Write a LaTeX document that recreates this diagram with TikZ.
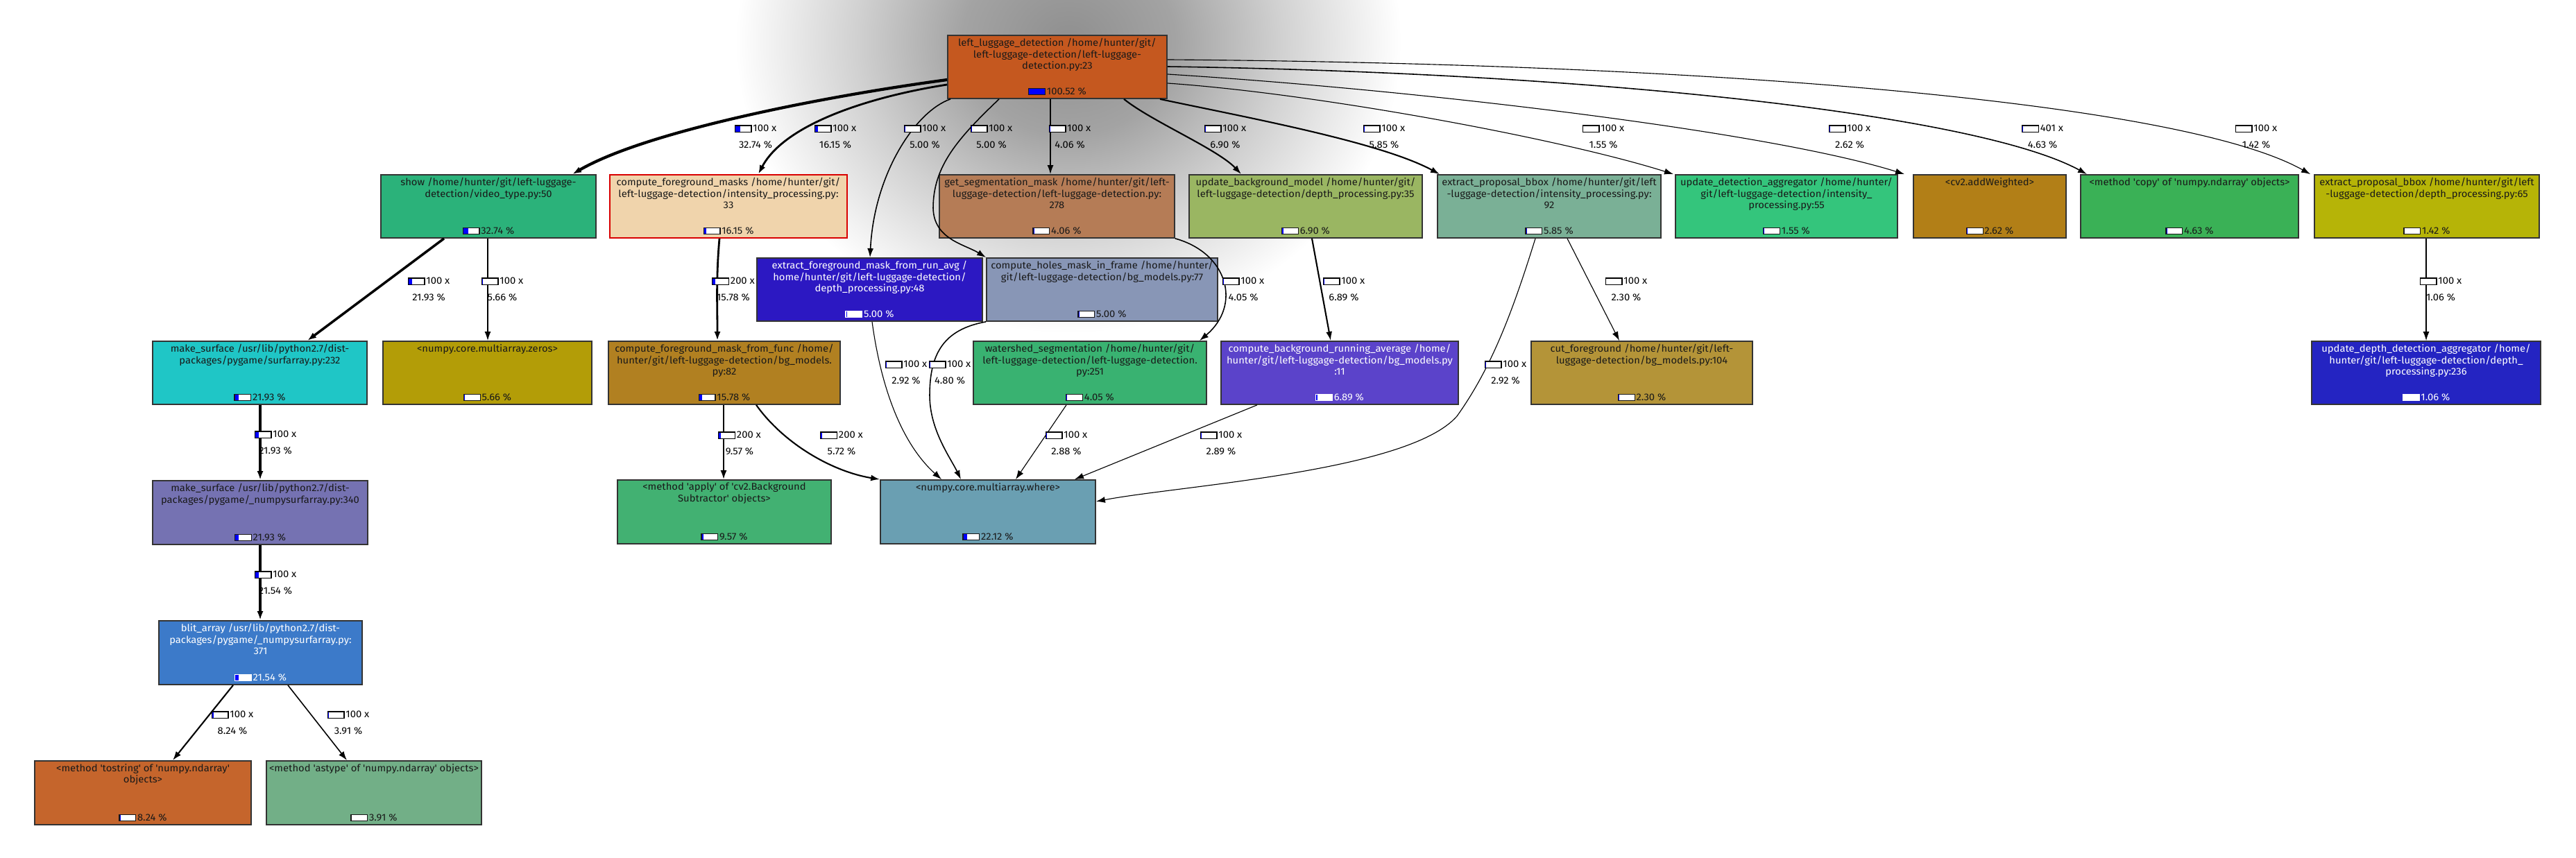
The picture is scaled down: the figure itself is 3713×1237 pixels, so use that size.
\documentclass[tikz,border=0pt]{standalone}
\usepackage{fontspec}
\usetikzlibrary{arrows.meta,fit}
\newfontfamily\callfont[FakeStretch=1.05]{Fira Sans}
\definecolor{RootOr}{HTML}{C5581F}
\definecolor{ShowGr}{HTML}{2BB27A}
\definecolor{MaskTan}{HTML}{F0D4AC}
\definecolor{SegBr}{HTML}{B57C56}
\definecolor{BgOlive}{HTML}{9AB662}
\definecolor{SageGr}{HTML}{7AB096}
\definecolor{AggGr}{HTML}{34C57C}
\definecolor{AmberBr}{HTML}{B27F17}
\definecolor{CopyGr}{HTML}{3AB156}
\definecolor{OliveYe}{HTML}{B6B407}
\definecolor{RunBlue}{HTML}{2C18C2}
\definecolor{HoleGrey}{HTML}{8896B6}
\definecolor{SurfCyan}{HTML}{1FC6C6}
\definecolor{ZeroGold}{HTML}{B39D07}
\definecolor{FuncBr}{HTML}{B18021}
\definecolor{WaterGr}{HTML}{39B271}
\definecolor{AvgPurple}{HTML}{5B43CA}
\definecolor{CutGold}{HTML}{B49438}
\definecolor{DepthBlue}{HTML}{2424C2}
\definecolor{ApplyGr}{HTML}{42B172}
\definecolor{WhereBl}{HTML}{6A9FB2}
\definecolor{NumpyLav}{HTML}{7572B2}
\definecolor{BlitBlue}{HTML}{3C7AC9}
\definecolor{StrOr}{HTML}{C5652C}
\definecolor{AstypeGr}{HTML}{72AF87}
\newlength\blen \newlength\wlen
\newcommand\nodefont{\callfont\fontsize{4.0}{4.75}\selectfont}
\newcommand\sq{\textquotesingle}
\newcommand\pbar[1]{\pgfmathsetlength\blen{6.4pt*min(#1,100)/100}%
  \pgfmathsetlength\wlen{6.4pt-\blen}%
  {\setlength\fboxsep{0pt}\setlength\fboxrule{0.35pt}%
  \fbox{\textcolor{blue}{\rule{\blen}{2.3pt}}\textcolor{white}{\rule{\wlen}{2.3pt}}}}\hspace{0.5pt}}
\pgfdeclareradialshading{glow}{\pgfpoint{0bp}{0bp}}{color(0bp)=(black!44);
  color(8bp)=(black!36); color(16bp)=(black!18); color(25bp)=(white); color(50bp)=(white)}
\tikzset{fbox/.style={line width=0.5pt,inner sep=0pt},
  ftext/.style={align=center,inner sep=1.2pt,font=\nodefont},
  fpct/.style={inner sep=1.4pt,font=\nodefont},
  elab/.style={align=center,inner sep=0pt,font=\callfont\fontsize{4.0}{6.8}\selectfont},
  call/.style={-{Latex[length=1.3mm,width=0.9mm]},draw=black},
  c1/.style={call,line width=1.2pt},c2/.style={call,line width=1pt},
  c3/.style={call,line width=0.8pt},c4/.style={call,line width=0.6pt},
  c5/.style={call,line width=0.45pt},c6/.style={call,line width=0.32pt}}
% name, corner, corner, fill, border, text colour, text, percent
\newcommand\callbox[8]{%
  \node[fbox,fill=#4,draw=#5,fit={#2 #3}] (#1) {};
  \node[ftext,text=#6,anchor=north] (#1-t) at (#1.north) {#7};
  \node[fpct,text=#6,anchor=south] (#1-p) at (#1.south) {\pbar{#8}#8 \%};}

\begin{document}
\begin{tikzpicture}[x=0.01cm,y=-0.01cm]
\useasboundingbox (0,0) rectangle (3713,1237);
\fill[white] (0,0) rectangle (3713,1237);
\begin{scope}
\clip (0,0) rectangle (3713,1237);
\shade[shading=glow] (1540,60) ellipse [x radius=480,y radius=420];
\end{scope}

% boxes
\callbox{root}{(1366,51)}{(1682,142)}{RootOr}{black!80}{black!90}{left\_luggage\_detection /home/hunter/git/\\left-luggage-detection/left-luggage-\\detection.py:23}{100.52}
\callbox{show}{(549,252)}{(859,343)}{ShowGr}{black!80}{black!90}{show /home/hunter/git/left-luggage-\\detection/video\_type.py:50}{32.74}
\callbox{masks}{(879,252)}{(1221,343)}{MaskTan}{red!85!black}{black!90}{compute\_foreground\_masks /home/hunter/git/\\left-luggage-detection/intensity\_processing.py:\\33}{16.15}
\callbox{segm}{(1354,252)}{(1693,343)}{SegBr}{black!80}{black!90}{get\_segmentation\_mask /home/hunter/git/left-\\luggage-detection/left-luggage-detection.py:\\278}{4.06}
\callbox{bgmod}{(1714,252)}{(2050,343)}{BgOlive}{black!80}{black!90}{update\_background\_model /home/hunter/git/\\left-luggage-detection/depth\_processing.py:35}{6.90}
\callbox{bboxi}{(2072,252)}{(2394,343)}{SageGr}{black!80}{black!90}{extract\_proposal\_bbox /home/hunter/git/left\\-luggage-detection/intensity\_processing.py:\\92}{5.85}
\callbox{aggr}{(2415,252)}{(2735,343)}{AggGr}{black!80}{black!90}{update\_detection\_aggregator /home/hunter/\\git/left-luggage-detection/intensity\_\\processing.py:55}{1.55}
\callbox{addw}{(2758,252)}{(2978,343)}{AmberBr}{black!80}{black!90}{<cv2.addWeighted>}{2.62}
\callbox{copy}{(2999,252)}{(3313,343)}{CopyGr}{black!80}{black!90}{<method \sq copy\sq{} of \sq numpy.ndarray\sq{} objects>}{4.63}
\callbox{bboxd}{(3336,252)}{(3660,343)}{OliveYe}{black!80}{black!90}{extract\_proposal\_bbox /home/hunter/git/left\\-luggage-detection/depth\_processing.py:65}{1.42}
\callbox{runavg}{(1091,372)}{(1416,463)}{RunBlue}{black!80}{white}{extract\_foreground\_mask\_from\_run\_avg /\\home/hunter/git/left-luggage-detection/\\depth\_processing.py:48}{5.00}
\callbox{holes}{(1422,372)}{(1755,463)}{HoleGrey}{black!80}{black!90}{compute\_holes\_mask\_in\_frame /home/hunter/\\git/left-luggage-detection/bg\_models.py:77}{5.00}
\callbox{surf}{(220,492)}{(529,583)}{SurfCyan}{black!80}{black!90}{make\_surface /usr/lib/python2.7/dist-\\packages/pygame/surfarray.py:232}{21.93}
\callbox{zeros}{(552,492)}{(853,583)}{ZeroGold}{black!80}{black!90}{<numpy.core.multiarray.zeros>}{5.66}
\callbox{func}{(877,492)}{(1211,583)}{FuncBr}{black!80}{black!90}{compute\_foreground\_mask\_from\_func /home/\\hunter/git/left-luggage-detection/bg\_models.\\py:82}{15.78}
\callbox{water}{(1403,492)}{(1739,583)}{WaterGr}{black!80}{black!90}{watershed\_segmentation /home/hunter/git/\\left-luggage-detection/left-luggage-detection.\\py:251}{4.05}
\callbox{avg}{(1760,492)}{(2102,583)}{AvgPurple}{black!80}{white}{compute\_background\_running\_average /home/\\hunter/git/left-luggage-detection/bg\_models.py\\:11}{6.89}
\callbox{cut}{(2207,492)}{(2526,583)}{CutGold}{black!80}{black!90}{cut\_foreground /home/hunter/git/left-\\luggage-detection/bg\_models.py:104}{2.30}
\callbox{daggr}{(3332,492)}{(3662,583)}{DepthBlue}{black!80}{white}{update\_depth\_detection\_aggregator /home/\\hunter/git/left-luggage-detection/depth\_\\processing.py:236}{1.06}
\callbox{nsurf}{(220,693)}{(530,785)}{NumpyLav}{black!80}{black!90}{make\_surface /usr/lib/python2.7/dist-\\packages/pygame/\_numpysurfarray.py:340}{21.93}
\callbox{apply}{(890,692)}{(1198,784)}{ApplyGr}{black!80}{black!90}{<method \sq apply\sq{} of \sq cv2.Background\\Subtractor\sq{} objects>}{9.57}
\callbox{where}{(1269,692)}{(1579,784)}{WhereBl}{black!80}{black!90}{<numpy.core.multiarray.where>}{22.12}
\callbox{blit}{(229,895)}{(522,987)}{BlitBlue}{black!80}{white}{blit\_array /usr/lib/python2.7/dist-\\packages/pygame/\_numpysurfarray.py:\\371}{21.54}
\callbox{tostr}{(50,1097)}{(362,1189)}{StrOr}{black!80}{black!90}{<method \sq tostring\sq{} of \sq numpy.ndarray\sq\\objects>}{8.24}
\callbox{astype}{(384,1097)}{(694,1189)}{AstypeGr}{black!80}{black!90}{<method \sq astype\sq{} of \sq numpy.ndarray\sq{} objects>}{3.91}

% calls from the root
\draw[c1] (root.west |- 0,115) .. controls (1180,140) and (930,190) .. (825,0 |- show.north);
\draw[c3] (root.west |- 0,122) .. controls (1250,140) and (1130,180) .. (1093,0 |- masks.north);
\draw[c5] (1370,0 |- root.south) .. controls (1320,160) and (1260,250) .. (1254,0 |- runavg.north);
\draw[c5] (1440,0 |- root.south) .. controls (1380,200) and (1345,240) .. (1345,300)
  .. controls (1346,345) and (1390,352) .. (holes.north west);
\draw[c5] (1514,0 |- root.south) -- (1514,0 |- segm.north);
\draw[c4] (1620,0 |- root.south) .. controls (1660,175) and (1755,215) .. (1789,0 |- bgmod.north);
\draw[c4] (1672,0 |- root.south) .. controls (1800,170) and (1990,205) .. (2075,0 |- bboxi.north);
\draw[c6] (root.east |- 0,120) .. controls (1900,135) and (2250,200) .. (2412,0 |- aggr.north);
\draw[c6] (root.east |- 0,107) .. controls (2050,130) and (2550,190) .. (2745,0 |- addw.north);
\draw[c5] (root.east |- 0,96) .. controls (2300,105) and (2850,165) .. (3008,0 |- copy.north);
\draw[c6] (root.east |- 0,86) .. controls (2500,92) and (3150,150) .. (3330,0 |- bboxd.north);
% lower calls
\draw[c2] (640,0 |- show.south) -- (443,0 |- surf.north);
\draw[c5] (703,0 |- show.south) -- (703,0 |- zeros.north);
\draw[c3] (1037,0 |- masks.south) .. controls (1032,400) and (1034,440) .. (1034,0 |- func.north);
\draw[c6] (1257,0 |- runavg.south) .. controls (1270,560) and (1300,640) .. (1357,0 |- where.north);
\draw[c5] (holes.south west) .. controls (1360,475) and (1340,510) .. (1340,570)
  .. controls (1340,620) and (1370,660) .. (1385,0 |- where.north);
\draw[c5] (segm.south east) .. controls (1770,365) and (1790,440) .. (1729,0 |- water.north);
\draw[c4] (1891,0 |- bgmod.south) -- (1918,0 |- avg.north);
\draw[c6] (2213,0 |- bboxi.south) .. controls (2180,450) and (2150,530) .. (2100,600)
  .. controls (2030,680) and (1700,700) .. (where.east |- 0,723);
\draw[c6] (2259,0 |- bboxi.south) -- (2334,0 |- cut.north);
\draw[c6] (3497,0 |- bboxd.south) -- (3497,0 |- daggr.north);
\draw[c4] (1043,0 |- func.south) -- (1043,0 |- apply.north);
\draw[c4] (1090,0 |- func.south) .. controls (1130,640) and (1200,680) .. (where.north west);
\draw[c6] (1537,0 |- water.south) -- (1464,0 |- where.north);
\draw[c6] (1812,0 |- avg.south) -- (1549,0 |- where.north);
\draw[c2] (375,0 |- surf.south) -- (375,0 |- nsurf.north);
\draw[c2] (375,0 |- nsurf.south) -- (375,0 |- blit.north);
\draw[c4] (336,0 |- blit.south) -- (249,0 |- tostr.north);
\draw[c5] (415,0 |- blit.south) -- (500,0 |- astype.north);

% call labels
\node[elab] (l-show) at (1089,197) {\pbar{32.74}100 x\\32.74 \%};
\node[elab] (l-masks) at (1204,197) {\pbar{16.15}100 x\\16.15 \%};
\node[elab] (l-runavg) at (1333,197) {\pbar{5.00}100 x\\5.00 \%};
\node[elab] (l-holes) at (1429,197) {\pbar{5.00}100 x\\5.00 \%};
\node[elab] (l-segm) at (1542,197) {\pbar{4.06}100 x\\4.06 \%};
\node[elab] (l-bgmod) at (1766,197) {\pbar{6.90}100 x\\6.90 \%};
\node[elab] (l-bboxi) at (1995,197) {\pbar{5.85}100 x\\5.85 \%};
\node[elab] (l-aggr) at (2311,197) {\pbar{1.55}100 x\\1.55 \%};
\node[elab] (l-addw) at (2666,197) {\pbar{2.62}100 x\\2.62 \%};
\node[elab] (l-copy) at (2944,197) {\pbar{4.63}401 x\\4.63 \%};
\node[elab] (l-bboxd) at (3252,197) {\pbar{1.42}100 x\\1.42 \%};
\node[elab] (l-surf) at (618,417) {\pbar{21.93}100 x\\21.93 \%};
\node[elab] (l-zeros) at (724,417) {\pbar{5.66}100 x\\5.66 \%};
\node[elab] (l-func) at (1057,417) {\pbar{15.78}200 x\\15.78 \%};
\node[elab] (l-water) at (1792,417) {\pbar{4.05}100 x\\4.05 \%};
\node[elab] (l-avg) at (1937,417) {\pbar{6.89}100 x\\6.89 \%};
\node[elab] (l-cut) at (2344,417) {\pbar{2.30}100 x\\2.30 \%};
\node[elab] (l-daggr) at (3518,417) {\pbar{1.06}100 x\\1.06 \%};
\node[elab] (l-w1) at (1306,537) {\pbar{2.92}100 x\\2.92 \%};
\node[elab] (l-w2) at (1369,537) {\pbar{4.80}100 x\\4.80 \%};
\node[elab] (l-w3) at (2170,537) {\pbar{2.92}100 x\\2.92 \%};
\node[elab] (l-apply) at (1066,639) {\pbar{9.57}200 x\\9.57 \%};
\node[elab] (l-w4) at (1213,639) {\pbar{5.72}200 x\\5.72 \%};
\node[elab] (l-w5) at (1537,639) {\pbar{2.88}100 x\\2.88 \%};
\node[elab] (l-w6) at (1760,639) {\pbar{2.89}100 x\\2.89 \%};
\node[elab] (l-nsurf) at (397,638) {\pbar{21.93}100 x\\21.93 \%};
\node[elab] (l-blit) at (397,840) {\pbar{21.54}100 x\\21.54 \%};
\node[elab] (l-tostr) at (335,1042) {\pbar{8.24}100 x\\8.24 \%};
\node[elab] (l-astype) at (502,1042) {\pbar{3.91}100 x\\3.91 \%};
\end{tikzpicture}
\end{document}
